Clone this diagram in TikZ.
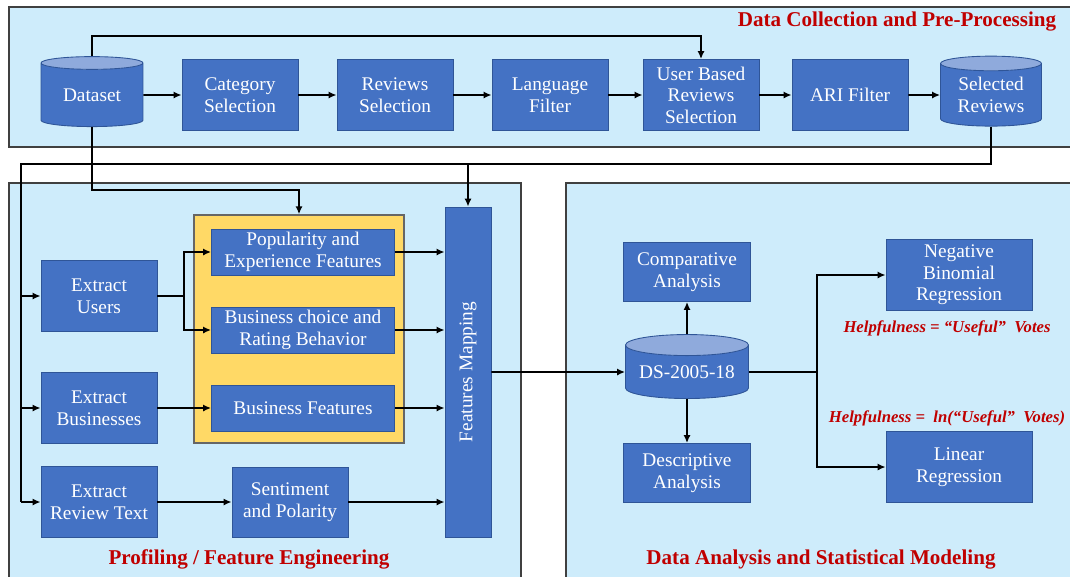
\documentclass[tikz,border=0pt]{standalone}
\usepackage{fontspec}
\setmainfont{Liberation Serif}
\usetikzlibrary{shapes.geometric,arrows.meta}
\definecolor{panelbg}{RGB}{206,236,251}
\definecolor{boxblue}{RGB}{68,114,196}
\definecolor{boxedge}{RGB}{47,85,151}
\definecolor{toplid}{RGB}{143,170,220}
\definecolor{featyellow}{RGB}{255,217,102}
\definecolor{titlered}{RGB}{192,0,0}

\begin{document}
\begin{tikzpicture}[x=0.02cm,y=-0.02cm,line width=1.1pt,
    panel/.style={draw=black!75,fill=panelbg,line width=0.6pt},
    box/.style={draw=boxedge,fill=boxblue,line width=0.5pt,text=white,inner sep=0pt,align=center,
      minimum width=2.32cm,minimum height=1.42cm,font=\fontsize{11}{12.3}\selectfont},
    db/.style={cylinder,shape border rotate=90,aspect=0.22,draw=boxedge,line width=0.5pt,
      cylinder uses custom fill,cylinder body fill=boxblue,cylinder end fill=toplid,
      text=white,inner sep=0pt,align=center,font=\fontsize{11}{12.3}\selectfont},
    feat/.style={box,minimum width=3.66cm,minimum height=0.92cm},
    ana/.style={box,minimum width=2.54cm,minimum height=1.18cm},
    reg/.style={box,minimum width=2.92cm},
    title/.style={text=titlered,font=\fontsize{12}{14}\selectfont\bfseries},
    note/.style={text=titlered,font=\fontsize{9.5}{11}\selectfont\bfseries\itshape},
    arr/.style={-{Latex[length=4.5pt,width=4pt]}}]
  \clip (0,0) rectangle (1070,576);
  \fill[white] (0,0) rectangle (1070,576);
  % panels
  \draw[panel] (9,7) rectangle (1075,147);
  \draw[panel] (9,183) rectangle (521,590);
  \draw[panel] (566,183) rectangle (1075,590);
  \node[title,anchor=east] (t1) at (1063,22) {Data Collection and Pre-Processing};
  \node[title] (t2) at (249,559) {Profiling / Feature Engineering};
  \node[title] (t3) at (821,559) {Data Analysis and Statistical Modeling};
  % data collection
  \node[db,minimum width=2.04cm,minimum height=1.4cm] (ds) at (92,95) {Dataset};
  \node[box] (cat) at (240,95) {Category\\Selection};
  \node[box] (rev) at (395,95) {Reviews\\Selection};
  \node[box] (lang) at (550,95) {Language\\Filter};
  \node[box] (ub) at (701,95) {User Based\\Reviews\\Selection};
  \node[box] (ari) at (850,95) {ARI Filter};
  \node[db,minimum width=2.02cm,minimum height=1.4cm] (sel) at (991,95) {Selected\\Reviews};
  % profiling
  \node[draw=black!60,fill=featyellow,line width=0.8pt,minimum width=4.2cm,minimum height=4.56cm] (grp) at (299,329) {};
  \node[box] (usr) at (99,296) {Extract\\Users};
  \node[box] (biz) at (99,408) {Extract\\Businesses};
  \node[box] (txt) at (99,502) {Extract\\Review Text};
  \node[feat] (pop) at (303,252) {Popularity and\\Experience Features};
  \node[feat] (beh) at (303,330) {Business choice and\\Rating Behavior};
  \node[feat] (bf) at (303,408) {Business Features};
  \node[box,minimum height=1.4cm] (sent) at (290,502) {Sentiment\\and Polarity};
  \node[box,minimum width=0.92cm,minimum height=6.6cm,
    label={[rotate=90,text=white,font=\fontsize{11}{12.3}\selectfont]center:Features Mapping}] (fm) at (468,372) {};
  % analysis
  \node[db,minimum width=2.46cm,minimum height=1.28cm] (dsn) at (687,372) {DS-2005-18};
  \node[ana] (comp) at (687,272) {Comparative\\Analysis};
  \node[ana] (desc) at (687,473) {Descriptive\\Analysis};
  \node[reg] (nbr) at (959,275) {Negative\\Binomial\\Regression};
  \node[reg] (lin) at (959,467) {Linear\\Regression};
  \node[note] (h1) at (947,328) {Helpfulness = “Useful”\ \ Votes};
  \node[note] (h2) at (947,418) {Helpfulness = \ ln(“Useful”\ \ Votes)};
  % connectors
  \draw[arr] (ds.north) -- ++(0,-20) -| (ub.north);
  \foreach \a/\b in {ds/cat,cat/rev,rev/lang,lang/ub,ub/ari,ari/sel}
    \draw[arr] (\a.east) -- (\b.west);
  \coordinate (bus) at (21,164);
  \draw (sel.south) |- (bus) -- (bus |- txt.west);
  \foreach \n in {usr,biz,txt}
    \draw[arr] (bus |- \n.west) -- (\n.west);
  \draw[arr] (fm.north |- bus) -- (fm.north);
  \draw[arr] (ds.south) -- ++(0,63) -| (grp.north);
  \draw (usr.east) -- ++(27,0) coordinate (usplit);
  \draw[arr] (usplit) |- (pop.west);
  \draw[arr] (usplit) |- (beh.west);
  \draw[arr] (biz.east) -- (bf.west);
  \draw[arr] (txt.east) -- (sent.west);
  \foreach \n in {pop,beh,bf,sent}
    \draw[arr] (\n.east) -- (\n.east -| fm.west);
  \draw[arr] (fm.east) -- (dsn.west);
  \draw[arr] (dsn.north) -- (comp.south);
  \draw[arr] (dsn.south) -- (desc.north);
  \draw (dsn.east) -- ++(68,0) coordinate (rsplit);
  \draw[arr] (rsplit) |- (nbr.west);
  \draw[arr] (rsplit) |- (lin.west);
\end{tikzpicture}
\end{document}
